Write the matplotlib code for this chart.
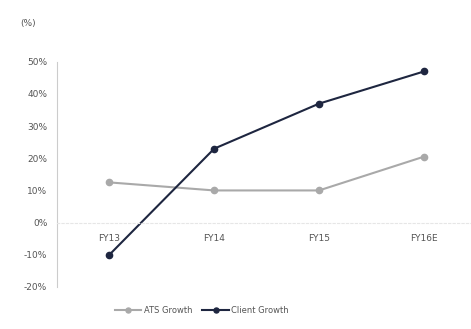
import matplotlib
matplotlib.use("Agg")
import matplotlib.pyplot as plt
from matplotlib.ticker import FuncFormatter

years = ["FY13", "FY14", "FY15", "FY16E"]
ats_growth = [12.5, 10.0, 10.0, 20.5]
client_growth = [-10.0, 23.0, 37.0, 47.0]

ats_col = "#a9a9a9"
client_col = "#1e2640"
txt_col = "#555555"

fig = plt.figure(figsize=(4.71, 3.29), dpi=100)
ax = fig.add_axes([0.121, 0.128, 0.879, 0.684])

x = range(len(years))
ax.plot(x, ats_growth, color=ats_col, lw=1.5, marker="o", ms=4.5, label="ATS Growth")
ax.plot(x, client_growth, color=client_col, lw=1.5, marker="o", ms=4.5, label="Client Growth")

ax.set_xlim(-0.5, 3.45)
ax.set_ylim(-20, 50)
ax.set_yticks(range(-20, 51, 10))
ax.yaxis.set_major_formatter(FuncFormatter(lambda v, p: "%d%%" % v))
ax.set_xticks(list(x))
ax.set_xticklabels(years)

# zero line doubles as category axis
for s in ["top", "right"]:
    ax.spines[s].set_visible(False)
ax.spines["bottom"].set_position(("data", 0))
ax.spines["bottom"].set_color("#e6e6e6")
ax.spines["bottom"].set_linewidth(0.8)
ax.spines["bottom"].set_linestyle((0, (2, 2)))
ax.spines["left"].set_color("#cccccc")
ax.spines["left"].set_linewidth(0.8)
ax.tick_params(axis="both", length=0, labelsize=6.5, colors=txt_col)
ax.tick_params(axis="x", pad=8)
ax.tick_params(axis="y", pad=7)

fig.text(0.042, 0.93, "(%)", fontsize=6.5, color=txt_col, va="center")

ax.legend(loc="upper center", bbox_to_anchor=(0.35, -0.05), ncol=2, frameon=False,
          fontsize=6, labelcolor=txt_col, handlelength=3.2, handletextpad=0.3,
          columnspacing=1.2, markerscale=0.8)

fig.savefig("out.png", dpi=100, facecolor="white")
